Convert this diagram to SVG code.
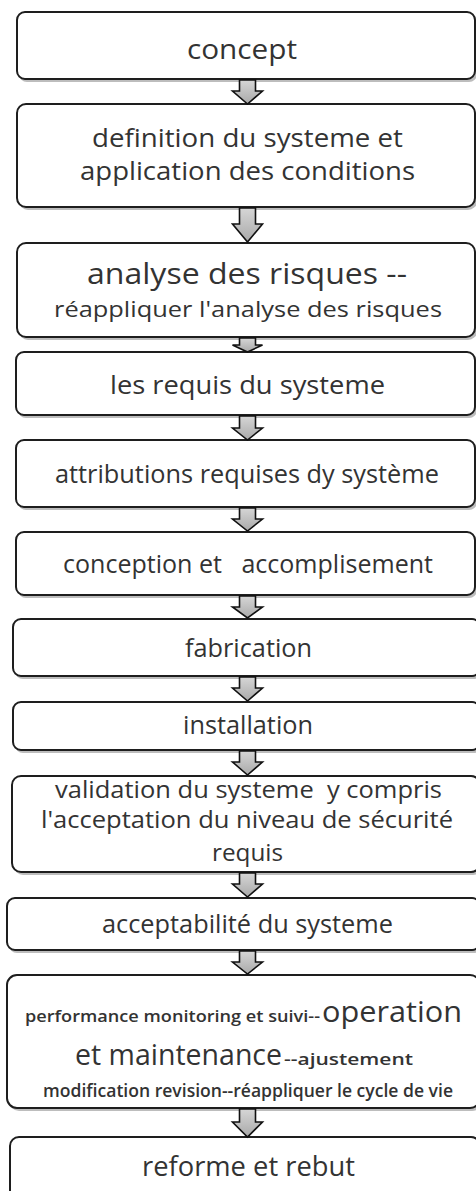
<svg xmlns="http://www.w3.org/2000/svg" width="476" height="1191" viewBox="0 0 476 1191">
  <defs>
    <linearGradient id="arrowFill" x1="0" y1="0" x2="0" y2="1">
      <stop offset="0" stop-color="#d6d6d6"/>
      <stop offset="1" stop-color="#a9a9a9"/>
    </linearGradient>
    <style>
      .box { fill: #ffffff; stroke: #1e1e1e; stroke-width: 2; }
      .shadow { fill: #bdbdbd; }
      .arrow { fill: url(#arrowFill); stroke: #111111; stroke-width: 1.6; stroke-linejoin: miter; }
      text { font-family: "Open Sans", "Liberation Sans", sans-serif; fill: #333333; text-anchor: middle; white-space: pre; }
      .s23 { font-size: 23px; }
      .s24 { font-size: 24px; }
      .s25 { font-size: 25px; }
      .s26 { font-size: 26px; }
      .s27 { font-size: 27px; }
      .big { font-size: 30px; }
      .small { font-size: 16px; font-weight: 600; }
      .mid { font-size: 18px; font-weight: 600; }
      .lead { text-anchor: start; }
    </style>
  </defs>

  <rect width="476" height="1191" fill="#ffffff"/>

  <!-- process steps -->
  <g id="concept">
    <rect class="shadow" x="19" y="15" width="458" height="67" rx="8"/>
    <rect class="box" x="17" y="12" width="458" height="67" rx="8"/>
    <text class="s27" x="242" y="59" textLength="110" lengthAdjust="spacingAndGlyphs">concept</text>
  </g>

  <g id="definition">
    <rect class="shadow" x="19" y="107" width="458" height="103" rx="9"/>
    <rect class="box" x="17" y="104" width="458" height="103" rx="9"/>
    <text class="s26" x="247.5" y="147" textLength="311" lengthAdjust="spacingAndGlyphs">definition du systeme et</text>
    <text class="s26" x="247.5" y="180" textLength="335" lengthAdjust="spacingAndGlyphs">application des conditions</text>
  </g>

  <g id="analyse">
    <rect class="shadow" x="19" y="246" width="458" height="94" rx="9"/>
    <rect class="box" x="17" y="243" width="458" height="94" rx="9"/>
    <text class="big" x="247" y="284" textLength="320" lengthAdjust="spacingAndGlyphs">analyse des risques --</text>
    <text x="248" y="317" style="font-size:21px" textLength="388" lengthAdjust="spacingAndGlyphs">réappliquer l'analyse des risques</text>
  </g>

  <g id="requis">
    <rect class="shadow" x="18" y="355" width="459" height="63" rx="8"/>
    <rect class="box" x="16" y="352" width="459" height="63" rx="8"/>
    <text class="s25" x="247.5" y="394" textLength="275" lengthAdjust="spacingAndGlyphs">les requis du systeme</text>
  </g>

  <g id="attributions">
    <rect class="shadow" x="18" y="443" width="459" height="67" rx="8"/>
    <rect class="box" x="16" y="440" width="459" height="67" rx="8"/>
    <text class="s25" x="247" y="483" textLength="384" lengthAdjust="spacingAndGlyphs">attributions requises dy système</text>
  </g>

  <g id="conception">
    <rect class="shadow" x="18" y="535" width="459" height="63" rx="8"/>
    <rect class="box" x="16" y="532" width="459" height="63" rx="8"/>
    <text class="s25" x="248" y="573" textLength="370" lengthAdjust="spacingAndGlyphs">conception et   accomplisement</text>
  </g>

  <g id="fabrication">
    <rect class="shadow" x="15" y="622" width="467" height="57" rx="8"/>
    <rect class="box" x="13" y="619" width="467" height="57" rx="8"/>
    <text class="s25" x="248.5" y="657" textLength="127" lengthAdjust="spacingAndGlyphs">fabrication</text>
  </g>

  <g id="installation">
    <rect class="shadow" x="15" y="705" width="467" height="48" rx="8"/>
    <rect class="box" x="13" y="702" width="467" height="48" rx="8"/>
    <text class="s25" x="248" y="734" textLength="130" lengthAdjust="spacingAndGlyphs">installation</text>
  </g>

  <g id="validation">
    <rect class="shadow" x="14" y="779" width="468" height="96" rx="9"/>
    <rect class="box" x="12" y="776" width="468" height="96" rx="9"/>
    <text class="s23" x="248.5" y="798" textLength="387" lengthAdjust="spacingAndGlyphs">validation du systeme  y compris</text>
    <text class="s23" x="247" y="828" textLength="412" lengthAdjust="spacingAndGlyphs">l'acceptation du niveau de sécurité</text>
    <text class="s24" x="247.5" y="861" textLength="71" lengthAdjust="spacingAndGlyphs">requis</text>
  </g>

  <g id="acceptabilite">
    <rect class="shadow" x="9" y="901" width="473" height="52" rx="8"/>
    <rect class="box" x="7" y="898" width="473" height="52" rx="8"/>
    <text class="s25" x="247.5" y="933" textLength="291" lengthAdjust="spacingAndGlyphs">acceptabilité du systeme</text>
  </g>

  <g id="operation">
    <rect class="shadow" x="9" y="978" width="473" height="133" rx="10"/>
    <rect class="box" x="7" y="975" width="473" height="133" rx="10"/>
    <text class="small lead" x="25" y="1022" textLength="295" lengthAdjust="spacingAndGlyphs">performance monitoring et suivi--</text>
    <text class="big lead" x="322" y="1022" textLength="140" lengthAdjust="spacingAndGlyphs">operation</text>
    <text class="big lead" x="75" y="1065" textLength="207" lengthAdjust="spacingAndGlyphs">et maintenance</text>
    <text class="small lead" x="284" y="1065" textLength="129" lengthAdjust="spacingAndGlyphs">--ajustement</text>
    <text class="mid" x="248" y="1097" textLength="410" lengthAdjust="spacingAndGlyphs">modification revision--réappliquer le cycle de vie</text>
  </g>

  <g id="reforme">
    <rect class="shadow" x="12" y="1140" width="470" height="80" rx="9"/>
    <rect class="box" x="10" y="1137" width="470" height="80" rx="9"/>
    <text class="s27" x="248.5" y="1176" textLength="213" lengthAdjust="spacingAndGlyphs">reforme et rebut</text>
  </g>

  <!-- block arrows between consecutive steps -->
  <g id="connectors">
    <path class="arrow" d="M239.5 80 H255.5 V91 H262.5 L247.5 104 L232.5 91 H239.5 Z"/>
    <path class="arrow" d="M239.5 208 H255.5 V224 H262.5 L247.5 242 L232.5 224 H239.5 Z"/>
    <path class="arrow" d="M239.5 338 H255.5 V345 H262.5 L247.5 352 L232.5 345 H239.5 Z"/>
    <path class="arrow" d="M239.5 416 H255.5 V428 H262.5 L247.5 440 L232.5 428 H239.5 Z"/>
    <path class="arrow" d="M239.5 508 H255.5 V519 H262.5 L247.5 531 L232.5 519 H239.5 Z"/>
    <path class="arrow" d="M239.5 596 H255.5 V607 H262.5 L247.5 618 L232.5 607 H239.5 Z"/>
    <path class="arrow" d="M239.5 677 H255.5 V688 H262.5 L247.5 701 L232.5 688 H239.5 Z"/>
    <path class="arrow" d="M239.5 751 H255.5 V762 H262.5 L247.5 775 L232.5 762 H239.5 Z"/>
    <path class="arrow" d="M239.5 873 H255.5 V884 H262.5 L247.5 897 L232.5 884 H239.5 Z"/>
    <path class="arrow" d="M239.5 951 H255.5 V962 H262.5 L247.5 974 L232.5 962 H239.5 Z"/>
    <path class="arrow" d="M239.5 1109 H255.5 V1122 H262.5 L247.5 1137 L232.5 1122 H239.5 Z"/>
  </g>
</svg>
